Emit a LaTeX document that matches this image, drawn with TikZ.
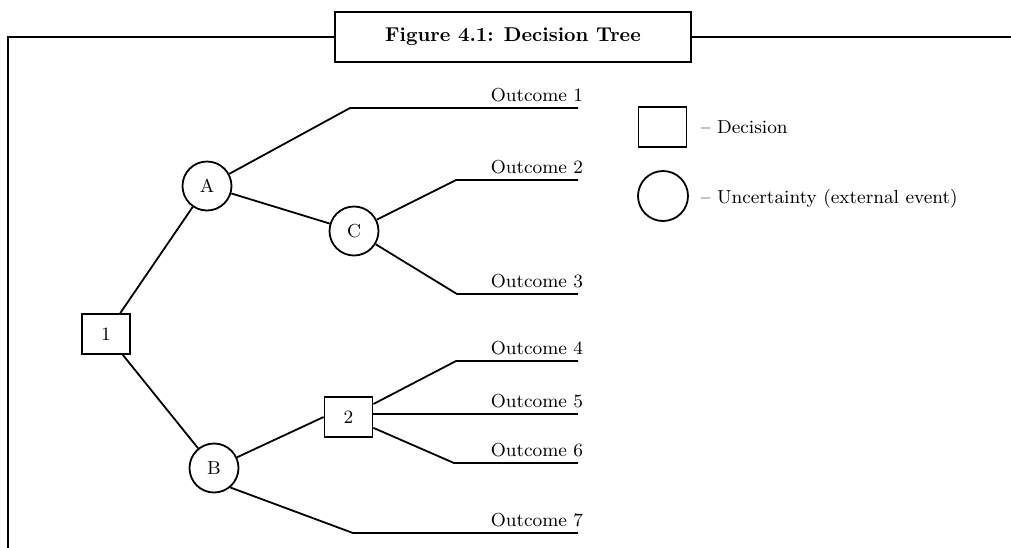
\documentclass[tikz,border=0pt]{standalone}
\begin{document}
\begin{tikzpicture}[x=0.5pt,y=-0.5pt, line width=0.9pt,
  every node/.style={font=\fontsize{9.4}{11}\selectfont},
  dec/.style={draw, rectangle, minimum width=24pt, minimum height=20pt, inner sep=0pt},
  unc/.style={draw, circle, minimum size=24.5pt, inner sep=0pt},
  lbl/.style={anchor=base east, inner sep=0pt},
  legtext/.style={anchor=base west, inner sep=0pt},
  frame/.style={line width=1.1pt}]
\useasboundingbox (0,0) rectangle (1011,547);

% frame and title
\node[draw, frame, minimum width=178pt, minimum height=25pt, inner sep=0pt,
      font=\fontsize{10}{12}\selectfont\bfseries] (title) at (513,37) {Figure 4.1: Decision Tree};
\coordinate (ftl) at (8,37);
\coordinate (fbl) at (8,550);
\coordinate (fr) at (1015,37);
\draw[frame] (title.west) -- (ftl) -- (fbl);
\draw[frame] (title.east) -- (fr);

% tree nodes
\node[dec] (n1) at (106,334) {1};
\node[unc] (A) at (207,186) {A};
\node[unc] (C) at (354,231) {C};
\node[unc] (B) at (214,468) {B};
\node[dec] (n2) at (348.5,417) {2};

% outcome coordinates
\coordinate (o1c) at (350,108); \coordinate (o1e) at (578,108);
\coordinate (o2c) at (456,180); \coordinate (o2e) at (578,180);
\coordinate (o3c) at (457,294); \coordinate (o3e) at (578,294);
\coordinate (o4c) at (456,361); \coordinate (o4e) at (578,361);
\coordinate (o5e) at (578,414);
\coordinate (o6c) at (454,463); \coordinate (o6e) at (578,463);
\coordinate (o7c) at (353,533); \coordinate (o7e) at (578,533);

% outcome labels
\node[lbl] (t1) at (584,101) {Outcome 1};
\node[lbl] (t2) at (584,173) {Outcome 2};
\node[lbl] (t3) at (584,287) {Outcome 3};
\node[lbl] (t4) at (584,354) {Outcome 4};
\node[lbl] (t5) at (584,407) {Outcome 5};
\node[lbl] (t6) at (584,456) {Outcome 6};
\node[lbl] (t7) at (584,526) {Outcome 7};

% connectors
\draw (n1) -- (A);
\draw (n1) -- (B);
\draw (A) -- (C);
\draw (A) -- (o1c) -- (o1e);
\draw (C) -- (o2c) -- (o2e);
\draw (C) -- (o3c) -- (o3e);
\draw (B) -- (n2.west);
\draw (B.-50) -- (o7c) -- (o7e);
\draw (n2) -- (o4c) -- (o4e);
\draw (n2.east |- o5e) -- (o5e);
\draw (n2) -- (o6c) -- (o6e);

% legend
\node[dec] (ld) at (662.5,127) {};
\node[unc, minimum size=25pt] (lu) at (663,196) {};
\node[legtext] (ldt) at (700,133) {-- Decision};
\node[legtext] (lut) at (700,203) {-- Uncertainty (external event)};
\end{tikzpicture}
\end{document}
